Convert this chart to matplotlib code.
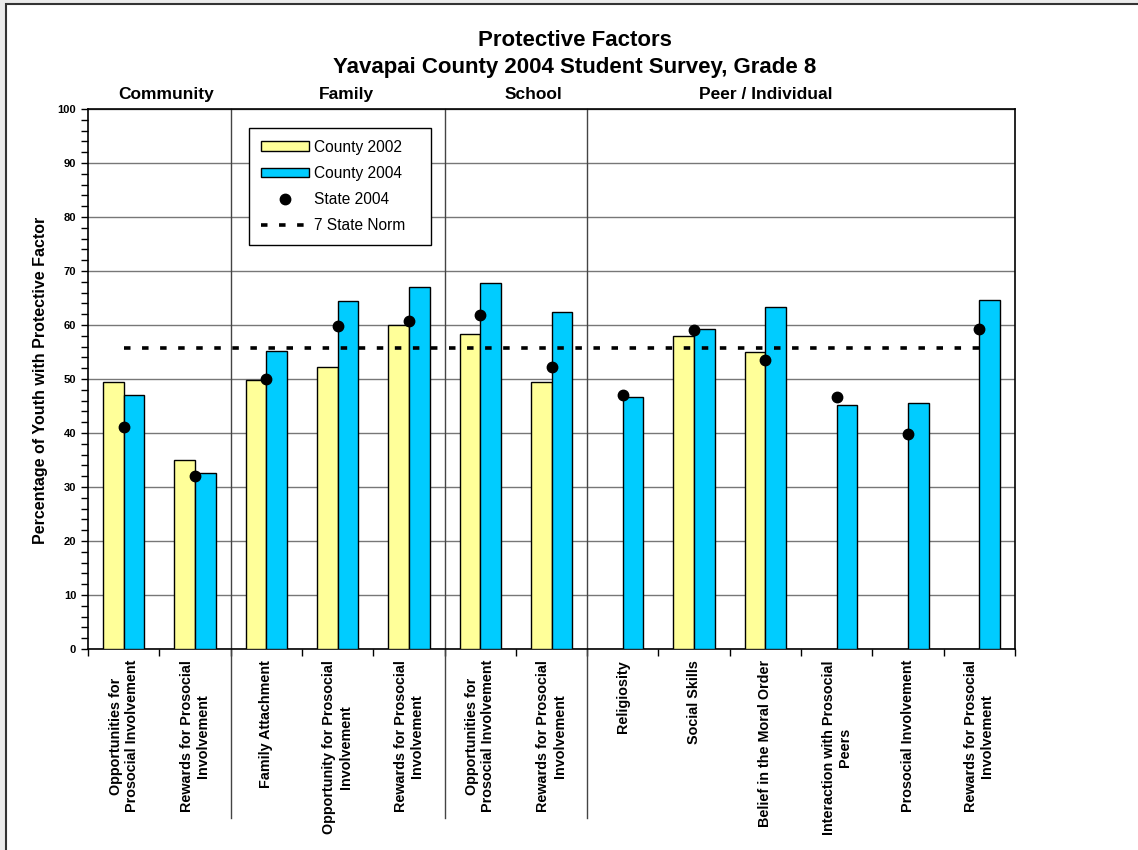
import numpy as np
import matplotlib
matplotlib.use('Agg')
import matplotlib.pyplot as plt
from matplotlib.patches import Rectangle, Patch
from matplotlib.lines import Line2D

# Data
categories = [
    'Opportunities for\nProsocial Involvement',
    'Rewards for Prosocial\nInvolvement',
    'Family Attachment',
    'Opportunity for Prosocial\nInvolvement',
    'Rewards for Prosocial\nInvolvement',
    'Opportunities for\nProsocial Involvement',
    'Rewards for Prosocial\nInvolvement',
    'Religiosity',
    'Social Skills',
    'Belief in the Moral Order',
    'Interaction with Prosocial\nPeers',
    'Prosocial Involvement',
    'Rewards for Prosocial\nInvolvement',
]
county_2002 = [49.5, 35.0, 49.8, 52.2, 60.0, 58.3, 49.5, np.nan, 58.0, 55.0, np.nan, np.nan, np.nan]
county_2004 = [47.0, 32.6, 55.2, 64.4, 67.1, 67.8, 62.4, 46.7, 59.3, 63.4, 45.2, 45.6, 64.6]
state_2004 = [41.1, 32.0, 50.0, 59.8, 60.7, 61.8, 52.2, 47.0, 59.1, 53.6, 46.6, 39.8, 59.2]
state_norm = 55.8
groups = ['Community', 'Family', 'School', 'Peer / Individual']
group_label_x = [0.6, 3.12, 5.75, 9.0]
group_breaks = [1.5, 4.5, 6.5]

plt.rcParams['font.family'] = ['Liberation Sans', 'DejaVu Sans']

fig = plt.figure(figsize=(11.38, 8.5), dpi=100, facecolor='#ebebeb')
# white page with a dark frame (cropped on right/bottom)
fig.patches.append(Rectangle((6 / 1138, -0.05), 1.1, 1 - 3.5 / 850 + 0.05,
                             transform=fig.transFigure, facecolor='white',
                             edgecolor='#333333', lw=1.5, zorder=-10))

ax = fig.add_axes([88 / 1138, 1 - 649 / 850, (1015 - 88) / 1138, (649 - 109) / 850])
x = np.arange(len(categories))
w = 0.29

ax.bar(x - w / 2, county_2002, w, color='#FFFF99', edgecolor='black', lw=1, zorder=3)
ax.bar(x + w / 2, county_2004, w, color='#00CCFF', edgecolor='black', lw=1, zorder=3)
ax.plot(x, state_2004, 'o', color='black', ms=7.5, zorder=5)
ax.plot([x[0], x[-1]], [state_norm, state_norm], color='black', lw=2.6,
        linestyle=(0, (1.8, 3.2)), zorder=4)

ax.set_xlim(-0.5, len(categories) - 0.5)
ax.set_ylim(0, 100)
ax.set_yticks(np.arange(0, 101, 10))
ax.set_yticks(np.arange(0, 101, 2), minor=True)
ax.yaxis.grid(True, color='#777777', lw=1, zorder=0)
ax.tick_params(axis='y', which='both', direction='out', length=5, width=1, labelsize=8)
for lab in ax.get_yticklabels():
    lab.set_fontweight('bold')

ax.set_xticks(x)
ax.set_xticklabels(categories, rotation=90, fontsize=10.4, fontweight='bold',
                   ha='center', va='top', multialignment='center')
ax.set_xticks(np.arange(-0.5, len(categories), 1), minor=True)
ax.tick_params(axis='x', which='major', length=0, pad=8)
ax.tick_params(axis='x', which='minor', direction='out', length=5, width=1)
for s in ax.spines.values():
    s.set_linewidth(1.2)

# group separators extending below labels
for b in group_breaks:
    ax.add_line(Line2D([b, b], [1, (649 - 818) / 540], transform=ax.get_xaxis_transform(),
                       color='#444444', lw=1, clip_on=False, zorder=2))
for g, gx in zip(groups, group_label_x):
    ax.text(gx, 1.026, g, transform=ax.get_xaxis_transform(), ha='center', va='center',
            fontsize=12.5, fontweight='bold')

fig.text(0.505, 0.952, 'Protective Factors', ha='center', va='center', fontsize=16, fontweight='bold')
fig.text(0.505, 0.920, 'Yavapai County 2004 Student Survey, Grade 8', ha='center', va='center',
         fontsize=16, fontweight='bold')
fig.text(0.036, 0.553, 'Percentage of Youth with Protective Factor', rotation=90,
         ha='center', va='center', fontsize=11.5, fontweight='bold')

handles = [
    Patch(facecolor='#FFFF99', edgecolor='black', lw=1, label='County 2002    '),
    Patch(facecolor='#00CCFF', edgecolor='black', lw=1, label='County 2004    '),
    Line2D([], [], marker='o', color='black', ls='none', ms=7.5, label='State 2004'),
    Line2D([], [], color='black', lw=2.6, ls=(0, (1.8, 3.2)), label='7 State Norm'),
]
leg = ax.legend(handles=handles, loc='upper left', bbox_to_anchor=(0.1737, 0.965),
                borderaxespad=0, fontsize=11.2, frameon=True, fancybox=False,
                edgecolor='black', framealpha=1, handlelength=3.1, handleheight=0.55,
                labelspacing=0.72, borderpad=0.75, handletextpad=0.35)
leg.get_frame().set_linewidth(1)
leg.set_zorder(6)

fig.savefig('out.png', dpi=100, facecolor=fig.get_facecolor())
